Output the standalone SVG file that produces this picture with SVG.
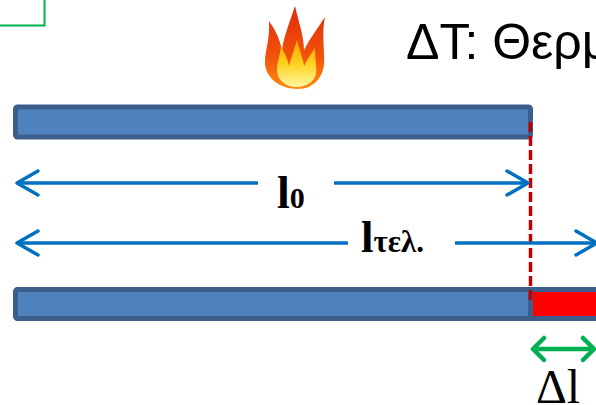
<svg xmlns="http://www.w3.org/2000/svg" width="596" height="405" viewBox="0 0 596 405">
  <style>
    .bar { fill: #4F81BD; stroke: #3B5E8C; stroke-width: 5; }
    .hot { fill: #FF0000; stroke: #3B5E8C; stroke-width: 5; }
    .dim { stroke: #0070C0; stroke-width: 3.5; fill: none; }
    .delta { stroke: #00B050; stroke-width: 4.5; fill: none; }
    .sym { font-family: "Liberation Serif", "Times New Roman", serif; font-weight: bold; fill: #000; }
    .title { font-family: "Liberation Sans", Arial, sans-serif; font-size: 50px; fill: #000; }
  </style>
  <defs>
    <marker id="chev-blue" viewBox="-25 -15 28 30" refX="0" refY="0" markerWidth="28" markerHeight="30" markerUnits="userSpaceOnUse" orient="auto-start-reverse">
      <path d="M-21,-12 L0,0 L-21,12" fill="none" stroke="#0070C0" stroke-width="3.5" stroke-linecap="round" stroke-linejoin="round"/>
    </marker>
    <marker id="chev-green" viewBox="-15 -14 18 28" refX="0" refY="0" markerWidth="18" markerHeight="28" markerUnits="userSpaceOnUse" orient="auto-start-reverse">
      <path d="M-11,-11 L0,0 L-11,11" fill="none" stroke="#00B050" stroke-width="4.5" stroke-linecap="round" stroke-linejoin="round"/>
    </marker>
    <linearGradient id="flameOuter" x1="0" y1="0" x2="0" y2="1">
      <stop offset="0" stop-color="#E02A08"/>
      <stop offset="0.6" stop-color="#F2520A"/>
      <stop offset="1" stop-color="#FF8A10"/>
    </linearGradient>
    <linearGradient id="flameInner" x1="0" y1="0" x2="0" y2="1">
      <stop offset="0" stop-color="#FFA000"/>
      <stop offset="0.5" stop-color="#FFD21E"/>
      <stop offset="1" stop-color="#FFF6A0"/>
    </linearGradient>
  </defs>

  <!-- corner frame -->
  <g id="corner-frame">
    <rect x="-10" y="-10" width="54.5" height="35.5" fill="none" stroke="#00B050" stroke-width="2"/>
  </g>

  <!-- heat source -->
  <g id="flame">
    <path d="M298,89 C280,89 265,78 265,62 C265,50 270,40 269,21 C276,31 280,40 282,50 C284,35 290,22 295,6 C298,20 304,36 304,50 C310,38 318,28 325,17 C322,30 324,44 324,56 C326,76 314,89 298,89 Z" fill="url(#flameOuter)"/>
    <path d="M297,87 C285,87 277,80 277,70 C277,62 280,56 281,46 C285,54 288,60 289,66 C291,58 294,50 297,40 C300,52 303,58 304,66 C307,60 311,54 315,48 C315,60 317,68 316,74 C314,82 306,87 297,87 Z" fill="url(#flameInner)"/>
  </g>

  <g id="title">
    <text class="title" x="406" y="59">ΔT: Θερμ</text>
  </g>

  <!-- rod before heating -->
  <g id="rod-initial">
    <rect class="bar" x="15.5" y="107" width="515" height="30" rx="2"/>
  </g>

  <!-- rod after heating: original length plus extension -->
  <g id="rod-final">
    <rect class="hot" x="530" y="289.5" width="80" height="29"/>
    <rect class="bar" x="15.5" y="289.5" width="515" height="29" rx="2"/>
  </g>

  <g id="connectors">
    <line x1="530.5" y1="122" x2="530.5" y2="303" stroke="#C00000" stroke-width="3.5" stroke-dasharray="10 4"/>
    <line class="dim" x1="17" y1="183" x2="258" y2="183" marker-start="url(#chev-blue)"/>
    <line class="dim" x1="334" y1="183" x2="528" y2="183" marker-end="url(#chev-blue)"/>
    <line class="dim" x1="17" y1="243" x2="348" y2="243" marker-start="url(#chev-blue)"/>
    <line class="dim" x1="455" y1="243" x2="597" y2="243" marker-end="url(#chev-blue)"/>
    <line class="delta" x1="533" y1="349" x2="594" y2="349" marker-start="url(#chev-green)" marker-end="url(#chev-green)"/>
  </g>

  <g id="label-l0">
    <text class="sym" x="277" y="208"><tspan font-size="46">l</tspan><tspan font-size="30">0</tspan></text>
  </g>
  <g id="label-lfinal">
    <text class="sym" x="361" y="252"><tspan font-size="45">l</tspan><tspan font-size="31">τελ.</tspan></text>
  </g>
  <g id="label-dl">
    <text x="536" y="403" font-family="Liberation Serif, 'Times New Roman', serif" font-size="48" fill="#000">Δl</text>
  </g>
</svg>
